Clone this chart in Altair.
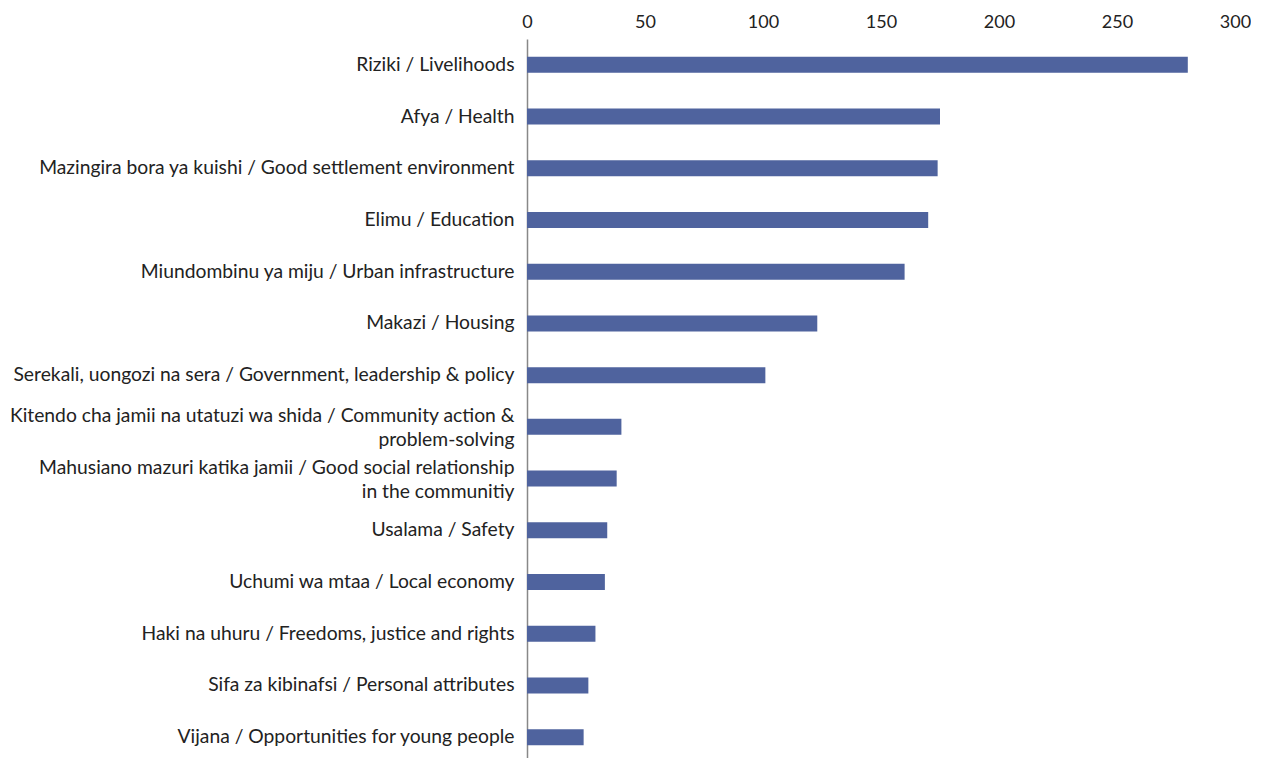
import altair as alt
import pandas as pd

categories = [
    "Riziki / Livelihoods",
    "Afya / Health",
    "Mazingira bora ya kuishi / Good settlement environment",
    "Elimu / Education",
    "Miundombinu ya miju / Urban infrastructure",
    "Makazi / Housing",
    "Serekali, uongozi na sera / Government, leadership & policy",
    "Kitendo cha jamii na utatuzi wa shida / Community action &|problem-solving",
    "Mahusiano mazuri katika jamii / Good social relationship|in the communitiy",
    "Usalama / Safety",
    "Uchumi wa mtaa / Local economy",
    "Haki na uhuru / Freedoms, justice and rights",
    "Sifa za kibinafsi / Personal attributes",
    "Vijana / Opportunities for young people",
]
values = [280, 175, 174, 170, 160, 123, 101, 40, 38, 34, 33, 29, 26, 24]
tick_values = [0, 50, 100, 150, 200, 250, 300]

df = pd.DataFrame({"category": categories, "value": values})

FONT = "Lato"

chart = (
    alt.Chart(df)
    .mark_bar(size=16, color="#4f639e")
    .encode(
        x=alt.X(
            "value:Q",
            scale=alt.Scale(domain=[0, 300], nice=False),
            axis=alt.Axis(
                orient="top",
                values=tick_values,
                title=None,
                grid=False,
                ticks=False,
                domain=False,
                labelFlush=False,
                labelFontSize=18,
                labelFont=FONT,
                labelColor="#222222",
                labelPadding=8,
                minExtent=31,
                maxExtent=31,
            ),
        ),
        y=alt.Y(
            "category:N",
            sort=None,
            scale=alt.Scale(paddingInner=0, paddingOuter=0),
            axis=alt.Axis(
                title=None,
                ticks=False,
                grid=False,
                domain=True,
                domainColor="#888888",
                domainWidth=1.5,
                labelFontSize=19.3,
                labelFont=FONT,
                labelColor="#222222",
                labelPadding=13,
                labelLimit=600,
                labelLineHeight=24,
                labelExpr="split(datum.label, '|')",
                labelOffset={
                    "condition": {"test": "indexof(datum.value, '|') >= 0", "value": -11},
                    "value": 0,
                },
                minExtent=519,
                maxExtent=519,
            ),
        ),
    )
    .properties(width=708, height=724, padding=0)
    .configure_view(stroke=None)
)

chart.save("out.html", embed_options={"renderer": "svg", "actions": False})
